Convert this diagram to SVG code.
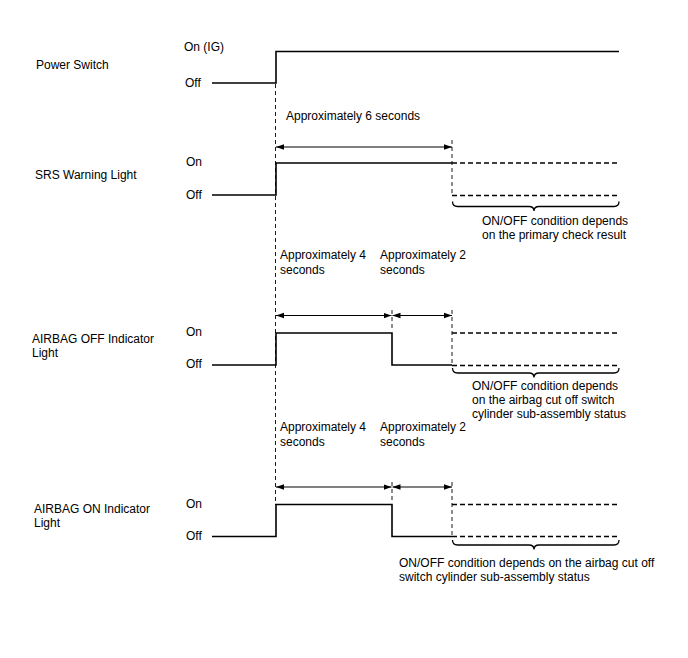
<svg xmlns="http://www.w3.org/2000/svg" width="688" height="658" viewBox="0 0 688 658">
<defs>
<marker id="ah" viewBox="0 0 10 10" refX="10" refY="5" markerWidth="8" markerHeight="8" markerUnits="userSpaceOnUse" orient="auto-start-reverse">
<path d="M0,1.5 L10,5 L0,8.5 Z" fill="#000"/>
</marker>
</defs>
<style>
text{font-family:"Liberation Sans",Arial,sans-serif;font-size:12px;fill:#000}
.sig{fill:none;stroke:#000;stroke-width:1.6}
.dsig{fill:none;stroke:#000;stroke-width:1.4;stroke-dasharray:5,3}
.guide{fill:none;stroke:#000;stroke-width:0.9;stroke-dasharray:4,3}
.arr{fill:none;stroke:#000;stroke-width:1;marker-start:url(#ah);marker-end:url(#ah)}
.brace{fill:none;stroke:#000;stroke-width:1.3}
</style>
<rect width="688" height="658" fill="#fff"/>

<g id="power-switch">
<text x="36" y="69">Power Switch</text>
<text x="184" y="51">On (IG)</text>
<text x="185" y="87">Off</text>
<path class="sig" d="M212,83 H276 V51.5 H619"/>
</g>

<g id="srs-warning-light">
<text x="35" y="179">SRS Warning Light</text>
<text x="186" y="166">On</text>
<text x="186" y="199">Off</text>
<path class="sig" d="M212,195 H276 V163 H452"/>
<path class="dsig" d="M452,163 H619 M452,195.5 H619"/>
<path class="guide" d="M452,140 V195"/>
<path class="brace" d="M452.5,201.5 Q452.5,206.5 457.5,206.5 H529 Q534,206.5 534,211 Q534,206.5 539,206.5 H614 Q619,206.5 619,201.5"/>
<text x="482" y="225">ON/OFF condition depends</text>
<text x="482" y="239">on the primary check result</text>
</g>

<g id="airbag-off-indicator">
<text x="32" y="343">AIRBAG OFF Indicator</text>
<text x="32" y="357">Light</text>
<text x="186" y="336">On</text>
<text x="186" y="368">Off</text>
<path class="sig" d="M212,365 H276 V333 H392 V365 H452"/>
<path class="dsig" d="M452,333 H619 M452,365.5 H619"/>
<path class="guide" d="M392,310 V330 M452,310 V365"/>
<path class="brace" d="M452.5,368 Q452.5,373 457.5,373 H529 Q534,373 534,377.5 Q534,373 539,373 H614 Q619,373 619,368"/>
<text x="472" y="390">ON/OFF condition depends</text>
<text x="472" y="404">on the airbag cut off switch</text>
<text x="472" y="418">cylinder sub-assembly status</text>
</g>

<g id="airbag-on-indicator">
<text x="34" y="513">AIRBAG ON Indicator</text>
<text x="34" y="527">Light</text>
<text x="186" y="508">On</text>
<text x="186" y="540">Off</text>
<path class="sig" d="M212,536.5 H276 V504.5 H392 V536.5 H452"/>
<path class="dsig" d="M452,504.5 H619 M452,536.5 H619"/>
<path class="guide" d="M392,482 V500 M452,482 V536"/>
<path class="brace" d="M452.5,540 Q452.5,545 457.5,545 H529 Q534,545 534,549.5 Q534,545 539,545 H614 Q619,545 619,540"/>
<text x="399" y="567">ON/OFF condition depends on the airbag cut off</text>
<text x="399" y="581">switch cylinder sub-assembly status</text>
</g>

<g id="connectors">
<path class="guide" d="M275.5,84 V505"/>
<text x="286" y="120">Approximately 6 seconds</text>
<line class="arr" x1="276" y1="147" x2="452" y2="147"/>
<text x="280" y="259">Approximately 4</text>
<text x="280" y="274">seconds</text>
<text x="380" y="259">Approximately 2</text>
<text x="380" y="274">seconds</text>
<line class="arr" x1="276" y1="315.5" x2="391.5" y2="315.5"/>
<line class="arr" x1="392.5" y1="315.5" x2="452" y2="315.5"/>
<text x="280" y="431">Approximately 4</text>
<text x="280" y="446">seconds</text>
<text x="380" y="431">Approximately 2</text>
<text x="380" y="446">seconds</text>
<line class="arr" x1="276" y1="487" x2="391.5" y2="487"/>
<line class="arr" x1="392.5" y1="487" x2="452" y2="487"/>
</g>
</svg>
